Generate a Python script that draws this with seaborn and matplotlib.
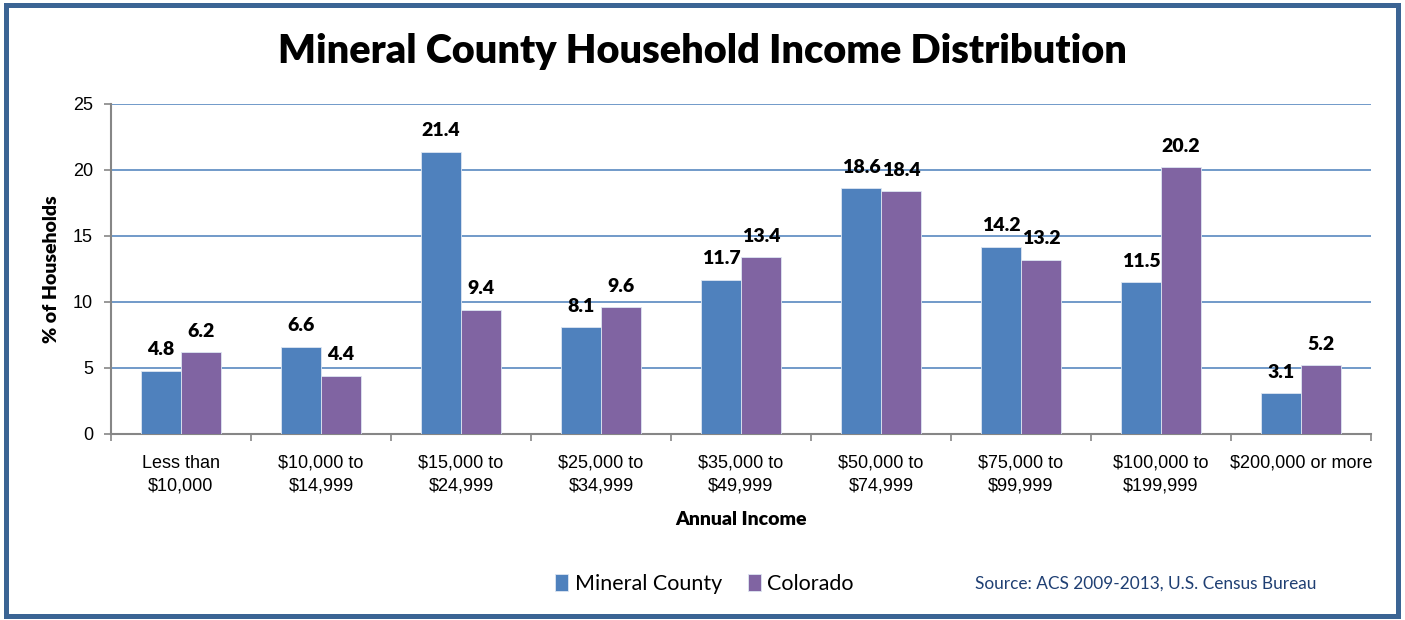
import pandas as pd
import matplotlib.pyplot as plt
import matplotlib.patches as mpatches
from matplotlib.ticker import FixedLocator
import seaborn as sns

# Данные
categories = ['Less than\n$10,000', '$10,000 to\n$14,999', '$15,000 to\n$24,999',
              '$25,000 to\n$34,999', '$35,000 to\n$49,999', '$50,000 to\n$74,999',
              '$75,000 to\n$99,999', '$100,000 to\n$199,999', '$200,000 or more']
mineral = [4.8, 6.6, 21.4, 8.1, 11.7, 18.6, 14.2, 11.5, 3.1]
colorado = [6.2, 4.4, 9.4, 9.6, 13.4, 18.4, 13.2, 20.2, 5.2]
series_names = ['Mineral County', 'Colorado']
y_ticks = [0, 5, 10, 15, 20, 25]

df = pd.DataFrame({
    'Income': categories * 2,
    'Pct': mineral + colorado,
    'Area': [series_names[0]] * len(categories) + [series_names[1]] * len(categories),
})

sns.set_theme(style="white")
plt.rcParams['font.family'] = ['Liberation Sans', 'DejaVu Sans']
for key in ['text.color', 'axes.labelcolor', 'xtick.color', 'ytick.color']:
    plt.rcParams[key] = 'black'
calibri = ['Lato', 'DejaVu Sans']

fig = plt.figure(figsize=(14.05, 6.2), dpi=100)
ax = fig.add_axes([111 / 1405, 186 / 620, 1260 / 1405, 330 / 620])

sns.barplot(data=df, x='Income', y='Pct', hue='Area', order=categories,
            hue_order=series_names, palette=['#4F81BD', '#8064A2'], saturation=1,
            width=0.57, gap=0, edgecolor='#DDE6F2', linewidth=0.6,
            ax=ax, legend=True, zorder=3)

# Подписи значений
for cont in ax.containers:
    ax.bar_label(cont, fmt='%.1f', padding=9, fontsize=14, fontweight='heavy',
                 family=calibri, color='black')

# Оси
ax.set_ylim(0, 25)
ax.set_xlim(-0.5, len(categories) - 0.5)
ax.set_yticks(y_ticks)
ax.yaxis.grid(True, color='#4A7EBB', linewidth=1.1, zorder=0)
ax.set_axisbelow(True)
for s in ['top', 'right']:
    ax.spines[s].set_visible(False)
for s in ['left', 'bottom']:
    ax.spines[s].set_color('#868686')
    ax.spines[s].set_linewidth(1.5)

ax.tick_params(axis='y', left=True, length=5, width=1.2, color='#868686',
               pad=8, labelsize=13)
ax.tick_params(axis='x', which='major', bottom=True, length=0, pad=15, labelsize=13)
ax.xaxis.set_minor_locator(FixedLocator([i - 0.5 for i in range(len(categories) + 1)]))
ax.tick_params(axis='x', which='minor', bottom=True, length=5, width=1.2, color='#868686')
for lbl in ax.get_xticklabels():
    lbl.set_linespacing(1.4)

ax.set_xlabel('Annual Income', fontsize=14, fontweight='heavy', family=calibri)
ax.set_ylabel('% of Households', fontsize=14, fontweight='heavy', family=calibri)
ax.xaxis.set_label_coords(0.5, -0.233)
ax.yaxis.set_label_coords(-0.0405, 0.5)

# Легенда
handles, labels = ax.get_legend_handles_labels()
ax.get_legend().remove()
fig.legend(handles, labels, loc='center left', bbox_to_anchor=(536 / 1405, 1 - 584 / 620),
           ncol=2, frameon=False, handlelength=0.6, handleheight=0.8, handletextpad=0.3,
           columnspacing=1.2, prop={'family': calibri, 'size': 15.5})

fig.text(975 / 1405, 1 - 584 / 620, 'Source: ACS 2009-2013, U.S. Census Bureau',
         ha='left', va='center', fontsize=12.4, color='#1F3F73', family=calibri)

fig.suptitle('Mineral County Household Income Distribution', x=0.5, y=1 - 52 / 620,
             va='center', fontsize=28.5, fontweight='heavy', family=calibri)

# Рамка
fig.patches.append(mpatches.Rectangle((6.5 / 1405, 4.5 / 620), 1391 / 1405, 610.5 / 620,
                                      transform=fig.transFigure, fill=False,
                                      edgecolor='#3B6494', linewidth=3.6))

fig.savefig('out.png', dpi=100)
